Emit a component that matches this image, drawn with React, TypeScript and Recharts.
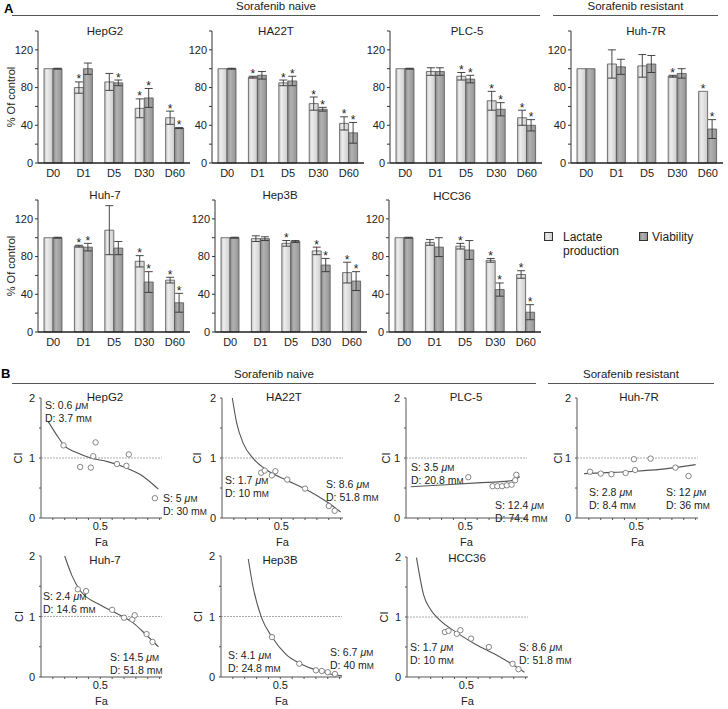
import React from "react";
import {
  BarChart, Bar, XAxis, YAxis, ErrorBar, LabelList,
  ComposedChart, Line, Scatter, ReferenceLine,
} from "recharts";

const FONT = '"Liberation Sans", Arial, sans-serif';
const days = ["D0", "D1", "D5", "D30", "D60"];

// ---- panel A: % of control (lactate production / viability) ----
const hepg2Lac = [100, 80, 86, 58, 48];
const hepg2LacErr = [0, 6, 9, 10, 7];
const hepg2Via = [100, 100, 85, 69, 37];
const hepg2ViaErr = [0.5, 6, 3, 10, 0.5];
const hepg2LacSig = [0, 1, 0, 1, 1];
const hepg2ViaSig = [0, 0, 1, 1, 1];

const ha22tLac = [100, 91, 85, 63, 42];
const ha22tLacErr = [0, 1, 3, 7, 7];
const ha22tVia = [100, 93, 87, 57, 32];
const ha22tViaErr = [0.5, 4, 5, 2, 11];
const ha22tLacSig = [0, 1, 1, 1, 1];
const ha22tViaSig = [0, 0, 1, 1, 1];

const plc5Lac = [100, 97, 92, 66, 48];
const plc5LacErr = [0, 4, 4, 10, 8];
const plc5Via = [100, 97, 89, 57, 40];
const plc5ViaErr = [0.5, 4, 4, 7, 6];
const plc5LacSig = [0, 0, 1, 1, 1];
const plc5ViaSig = [0, 0, 1, 1, 1];

const huh7rLac = [100, 105, 103, 92, 76];
const huh7rLacErr = [0, 15, 12, 1, 0];
const huh7rVia = [100, 102, 105, 95, 36];
const huh7rViaErr = [0, 8, 9, 5, 10];
const huh7rLacSig = [0, 0, 0, 1, 1];
const huh7rViaSig = [0, 0, 0, 0, 1];

const huh7Lac = [100, 91, 108, 75, 55];
const huh7LacErr = [0, 1, 26, 6, 3];
const huh7Via = [100, 90, 89, 53, 31];
const huh7ViaErr = [0.5, 4, 7, 11, 10];
const huh7LacSig = [0, 1, 0, 1, 1];
const huh7ViaSig = [0, 1, 0, 1, 1];

const hep3bLac = [100, 99, 94, 86, 63];
const hep3bLacErr = [0, 3, 3, 4, 11];
const hep3bVia = [100, 99, 96, 71, 54];
const hep3bViaErr = [0.5, 2, 1, 7, 10];
const hep3bLacSig = [0, 0, 1, 1, 1];
const hep3bViaSig = [0, 0, 0, 1, 1];

const hcc36Lac = [100, 95, 91, 76, 61];
const hcc36LacErr = [0, 3, 3, 2, 4];
const hcc36Via = [100, 90, 87, 45, 21];
const hcc36ViaErr = [0.5, 10, 10, 7, 8];
const hcc36LacSig = [0, 0, 1, 1, 1];
const hcc36ViaSig = [0, 0, 0, 1, 1];

// ---- panel B: combination index (CI) vs fraction affected (Fa) ----
const hepg2PtFa = [0.19, 0.33, 0.42, 0.44, 0.46, 0.64, 0.72, 0.74, 0.96];
const hepg2PtCi = [1.21, 0.85, 0.84, 1.03, 1.26, 0.9, 0.87, 1.06, 0.33];
const hepg2CvFa = [0.06, 0.13, 0.19, 0.3, 0.42, 0.56, 0.7, 0.84, 0.95, 0.99];
const hepg2CvCi = [1.61, 1.39, 1.22, 1.09, 1.0, 0.94, 0.85, 0.72, 0.55, 0.48];

const ha22tPtFa = [0.33, 0.36, 0.42, 0.45, 0.55, 0.7, 0.9, 0.95];
const ha22tPtCi = [0.755, 0.79, 0.71, 0.78, 0.64, 0.49, 0.2, 0.12];
const ha22tCvFa = [0.087, 0.124, 0.18, 0.264, 0.377, 0.545, 0.714, 0.883, 1.0];
const ha22tCvCi = [2.0, 1.58, 1.24, 0.99, 0.8, 0.63, 0.47, 0.27, 0.1];

const plc5PtFa = [0.525, 0.73, 0.77, 0.81, 0.85, 0.89, 0.92, 0.93];
const plc5PtCi = [0.68, 0.53, 0.53, 0.53, 0.545, 0.555, 0.63, 0.72];
const plc5CvFa = [0.04, 0.3, 0.6, 0.88, 0.93, 0.96];
const plc5CvCi = [0.52, 0.55, 0.585, 0.62, 0.65, 0.69];

const huh7rPtFa = [0.11, 0.2, 0.29, 0.41, 0.48, 0.49, 0.62, 0.83, 0.94];
const huh7rPtCi = [0.77, 0.74, 0.73, 0.75, 0.98, 0.8, 0.99, 0.84, 0.7];
const huh7rCvFa = [0.06, 0.3, 0.5, 0.7, 0.9, 1.0];
const huh7rCvCi = [0.74, 0.76, 0.78, 0.81, 0.86, 0.89];

const huh7PtFa = [0.31, 0.38, 0.6, 0.7, 0.77, 0.79, 0.89, 0.94];
const huh7PtCi = [1.45, 1.42, 1.11, 0.98, 0.95, 1.02, 0.71, 0.58];
const huh7CvFa = [0.2, 0.26, 0.33, 0.5, 0.64, 0.78, 0.89, 0.99];
const huh7CvCi = [2.0, 1.68, 1.43, 1.19, 1.05, 0.89, 0.69, 0.5];

const hep3bPtFa = [0.43, 0.66, 0.8, 0.85, 0.9, 0.96];
const hep3bPtCi = [0.66, 0.22, 0.11, 0.1, 0.08, 0.05];
const hep3bCvFa = [0.23, 0.27, 0.34, 0.43, 0.55, 0.67, 0.81, 0.92, 1.02];
const hep3bCvCi = [1.95, 1.49, 0.99, 0.66, 0.37, 0.22, 0.11, 0.05, 0.02];

const hcc36PtFa = [0.32, 0.35, 0.42, 0.45, 0.54, 0.69, 0.89, 0.94];
const hcc36PtCi = [0.75, 0.77, 0.72, 0.78, 0.64, 0.5, 0.22, 0.13];
const hcc36CvFa = [0.08, 0.14, 0.2, 0.27, 0.42, 0.58, 0.75, 0.88, 0.99];
const hcc36CvCi = [1.99, 1.37, 1.12, 0.96, 0.74, 0.54, 0.37, 0.22, 0.08];

function barRows(lac, lacErr, via, viaErr, lacSig, viaSig) {
  return days.map((day, i) => ({
    day, lac: lac[i], lacErr: lacErr[i], via: via[i], viaErr: viaErr[i],
    lacSig: lacSig[i], viaSig: viaSig[i],
  }));
}

const pairs = (fa: number[], ci: number[]) => fa.map((f, i) => ({ fa: f, ci: ci[i] }));

// asterisk above the error bar, placed with the bar's own pixel scale
const makeStar = (rows: any[], key: string) => (props: any) => {
  const vb = props.viewBox ?? props;
  let i = props.index;
  if (i == null) i = rows.findIndex((r) => r === props.payload);
  const row = rows[i];
  if (!row || !row[key + "Sig"]) return null;
  const h = Math.abs(vb.height);
  const ppu = h / row[key];
  const top = vb.y - row[key + "Err"] * ppu;
  return (
    <text x={vb.x + vb.width / 2} y={top + 1.5} textAnchor="middle" fontSize={12} fill="#222">*</text>
  );
};

const A_W = 152;
const A_H = 132;
const A_YW = 36;

function BarPanel({ id, title, px, py, tx, ty, rows, ylabel }: any) {
  return (
    <>
      <div style={{ position: "absolute", left: px - A_YW, top: py - 10 }}>
        <BarChart width={A_W + A_YW + 6} height={A_H + 10 + 22} data={rows}
          margin={{ top: 10, right: 6, bottom: 0, left: 0 }} barGap={0}>
          <defs>
            <linearGradient id={"gl" + id} x1="0" y1="0" x2="1" y2="0">
              <stop offset="0" stopColor="#c4c4c4" />
              <stop offset="0.3" stopColor="#ededed" />
              <stop offset="1" stopColor="#cdcdcd" />
            </linearGradient>
            <linearGradient id={"gv" + id} x1="0" y1="0" x2="1" y2="0">
              <stop offset="0" stopColor="#8c8c8c" />
              <stop offset="0.35" stopColor="#b2b2b2" />
              <stop offset="1" stopColor="#949494" />
            </linearGradient>
          </defs>
          <XAxis dataKey="day" height={22} tickLine={false} tickSize={4} interval={0}
            axisLine={{ stroke: "#222", strokeWidth: 1.6 }} tick={{ fontSize: 11, fill: "#222" }} />
          <YAxis width={A_YW} domain={[0, 140]} ticks={[0, 20, 40, 60, 80, 100, 120, 140]} interval={0}
            tickSize={3} tickFormatter={(v) => (v % 40 === 0 && v < 140 ? String(v) : "")}
            axisLine={{ stroke: "#333" }} tickLine={{ stroke: "#333" }} tick={{ fontSize: 11, fill: "#222" }}
            label={ylabel ? { value: "% Of control", angle: -90, position: "insideLeft", offset: 9,
              style: { textAnchor: "middle", fontSize: 11, fill: "#222" } } : undefined} />
          <Bar dataKey="lac" fill={`url(#gl${id})`} stroke="#555" strokeWidth={0.8} barSize={9}
            isAnimationActive={false}>
            <ErrorBar dataKey="lacErr" width={4} stroke="#333" strokeWidth={0.9} />
            <LabelList dataKey="lac" content={makeStar(rows, "lac")} />
          </Bar>
          <Bar dataKey="via" fill={`url(#gv${id})`} stroke="#555" strokeWidth={0.8} barSize={9}
            isAnimationActive={false}>
            <ErrorBar dataKey="viaErr" width={4} stroke="#333" strokeWidth={0.9} />
            <LabelList dataKey="via" content={makeStar(rows, "via")} />
          </Bar>
        </BarChart>
      </div>
      <div style={{ position: "absolute", left: tx - 40, width: 80, top: ty - 7, textAlign: "center",
        fontSize: 11.5, color: "#222" }}>{title}</div>
    </>
  );
}

const B_W = 121;
const B_YW = 34;
const B_XH = 32;

const Circle = (p: any) => (
  <circle cx={p.cx} cy={p.cy} r={2.7} fill="#fff" stroke="#777" strokeWidth={0.9} />
);

// y tick for CI: label only whole numbers, minor ticks stay unlabelled
const CiTick = (p: any) => {
  const v = p.payload?.value;
  if (!Number.isInteger(v)) return null;
  return (
    <text x={p.x - 2} y={p.y} dy={4} textAnchor="end" fontSize={11} fill="#222">{String(v)}</text>
  );
};

function Note({ x, y, s, d }: any) {
  return (
    <div style={{ position: "absolute", left: x, top: y, fontSize: 10.5, lineHeight: "12px",
      color: "#222", whiteSpace: "nowrap" }}>
      <div>S: {s} <i>μ</i><span style={{ fontSize: 8.5 }}>M</span></div>
      <div>D: {d} m<span style={{ fontSize: 8.5 }}>M</span></div>
    </div>
  );
}

function CiPanel({ title, px, py, ph, tx, ty, ciX, pts, curve, notes }: any) {
  return (
    <>
      <div style={{ position: "absolute", left: px - B_YW, top: py - 10 }}>
        <ComposedChart width={B_W + B_YW + 6} height={ph + 10 + B_XH}
          margin={{ top: 10, right: 6, bottom: 0, left: 0 }}>
          <XAxis type="number" dataKey="fa" domain={[0, 1.02]} allowDataOverflow height={B_XH}
            ticks={[0.1, 0.2, 0.3, 0.4, 0.5, 0.6, 0.7, 0.8, 0.9, 1.0]} interval={0} tickSize={2}
            tickFormatter={(v) => (v === 0.5 ? "0.5" : "")}
            axisLine={{ stroke: "#555" }} tickLine={{ stroke: "#555" }} tick={{ fontSize: 11, fill: "#222" }}
            label={{ value: "Fa", position: "insideBottom", offset: 4, style: { fontSize: 11, fill: "#222" } }} />
          <YAxis type="number" domain={[0, 2]} ticks={[0, 0.5, 1, 1.5, 2]} interval={0}
            width={B_YW} tickSize={2} tick={CiTick}
            axisLine={{ stroke: "#555" }} tickLine={{ stroke: "#555" }}
            label={{ value: "CI", angle: -90, position: "insideLeft", offset: ciX - (px - B_YW),
              style: { textAnchor: "middle", fontSize: 11, fill: "#222" } }} />
          <ReferenceLine y={1} stroke="#aaa" strokeDasharray="2 1" />
          <Line data={curve} dataKey="ci" type="monotone" dot={false} stroke="#555" strokeWidth={1.1}
            isAnimationActive={false} />
          <Scatter data={pts} dataKey="ci" shape={Circle} isAnimationActive={false} />
        </ComposedChart>
      </div>
      <div style={{ position: "absolute", left: tx - 40, width: 80, top: ty - 7, textAlign: "center",
        fontSize: 11.5, color: "#222" }}>{title}</div>
      {notes.map((n: any, i: number) => <Note key={i} {...n} />)}
    </>
  );
}

function Header({ label, x1, x2, y }: any) {
  return (
    <>
      <div style={{ position: "absolute", left: x1, width: x2 - x1, top: y - 15, textAlign: "center",
        fontSize: 11.5, color: "#222" }}>{label}</div>
      <div style={{ position: "absolute", left: x1, width: x2 - x1, top: y, borderTop: "1px solid #555" }} />
    </>
  );
}

export default function App() {
  return (
    <div style={{ position: "absolute", left: 0, top: 0, width: 728, height: 709, background: "#fff",
      fontFamily: FONT, overflow: "hidden" }}>
      <div style={{ position: "absolute", left: 4, top: 1, fontSize: 13, fontWeight: "bold" }}>A</div>
      <Header label="Sorafenib naive" x1={12} x2={540} y={15} />
      <Header label="Sorafenib resistant" x1={553} x2={718} y={15} />

      <BarPanel id="a1" title="HepG2" px={38} py={31} tx={105} ty={32}
        rows={barRows(hepg2Lac, hepg2LacErr, hepg2Via, hepg2ViaErr, hepg2LacSig, hepg2ViaSig)} ylabel />
      <BarPanel id="a2" title="HA22T" px={212} py={31} tx={276} ty={32}
        rows={barRows(ha22tLac, ha22tLacErr, ha22tVia, ha22tViaErr, ha22tLacSig, ha22tViaSig)} />
      <BarPanel id="a3" title="PLC-5" px={390} py={31} tx={467} ty={32}
        rows={barRows(plc5Lac, plc5LacErr, plc5Via, plc5ViaErr, plc5LacSig, plc5ViaSig)} />
      <BarPanel id="a4" title="Huh-7R" px={571} py={31} tx={646} ty={32}
        rows={barRows(huh7rLac, huh7rLacErr, huh7rVia, huh7rViaErr, huh7rLacSig, huh7rViaSig)} />
      <BarPanel id="a5" title="Huh-7" px={38} py={200} tx={105} ty={196}
        rows={barRows(huh7Lac, huh7LacErr, huh7Via, huh7ViaErr, huh7LacSig, huh7ViaSig)} ylabel />
      <BarPanel id="a6" title="Hep3B" px={215} py={200} tx={280} ty={196}
        rows={barRows(hep3bLac, hep3bLacErr, hep3bVia, hep3bViaErr, hep3bLacSig, hep3bViaSig)} />
      <BarPanel id="a7" title="HCC36" px={389} py={200} tx={452} ty={197}
        rows={barRows(hcc36Lac, hcc36LacErr, hcc36Via, hcc36ViaErr, hcc36LacSig, hcc36ViaSig)} />

      {/* legend */}
      <div style={{ position: "absolute", left: 544, top: 232, width: 7, height: 7, border: "1.5px solid #333",
        background: "linear-gradient(90deg,#c4c4c4,#ededed 30%,#cdcdcd)" }} />
      <div style={{ position: "absolute", left: 563, top: 230, fontSize: 12, lineHeight: "14px", color: "#222" }}>
        Lactate<br />production
      </div>
      <div style={{ position: "absolute", left: 639, top: 232, width: 7, height: 7, border: "1.5px solid #333",
        background: "linear-gradient(90deg,#8c8c8c,#b2b2b2 35%,#949494)" }} />
      <div style={{ position: "absolute", left: 652, top: 230, fontSize: 12, lineHeight: "14px", color: "#222" }}>
        Viability
      </div>

      <div style={{ position: "absolute", left: 1, top: 366, fontSize: 13, fontWeight: "bold" }}>B</div>
      <Header label="Sorafenib naive" x1={12} x2={536} y={383} />
      <Header label="Sorafenib resistant" x1={548} x2={714} y={383} />

      <CiPanel title="HepG2" px={41} py={398} ph={120} tx={105} ty={398} ciX={18}
        pts={pairs(hepg2PtFa, hepg2PtCi)} curve={pairs(hepg2CvFa, hepg2CvCi)}
        notes={[{ x: 45, y: 399, s: "0.6", d: "3.7" }, { x: 163, y: 492, s: "5", d: "30" }]} />
      <CiPanel title="HA22T" px={222} py={398} ph={120} tx={284} ty={398} ciX={197}
        pts={pairs(ha22tPtFa, ha22tPtCi)} curve={pairs(ha22tCvFa, ha22tCvCi)}
        notes={[{ x: 225, y: 474, s: "1.7", d: "10" }, { x: 326, y: 478, s: "8.6", d: "51.8" }]} />
      <CiPanel title="PLC-5" px={406} py={398} ph={120} tx={466} ty={398} ciX={386}
        pts={pairs(plc5PtFa, plc5PtCi)} curve={pairs(plc5CvFa, plc5CvCi)}
        notes={[{ x: 411, y: 461, s: "3.5", d: "20.8" }, { x: 495, y: 499, s: "12.4", d: "74.4" }]} />
      <CiPanel title="Huh-7R" px={577} py={398} ph={120} tx={639} ty={398} ciX={558}
        pts={pairs(huh7rPtFa, huh7rPtCi)} curve={pairs(huh7rCvFa, huh7rCvCi)}
        notes={[{ x: 589, y: 486, s: "2.8", d: "8.4" }, { x: 666, y: 486, s: "12", d: "36" }]} />
      <CiPanel title="Huh-7" px={41} py={556} ph={121} tx={105} ty={561} ciX={19}
        pts={pairs(huh7PtFa, huh7PtCi)} curve={pairs(huh7CvFa, huh7CvCi)}
        notes={[{ x: 43, y: 590, s: "2.4", d: "14.6" }, { x: 110, y: 651, s: "14.5", d: "51.8" }]} />
      <CiPanel title="Hep3B" px={221} py={556} ph={121} tx={280} ty={561} ciX={198}
        pts={pairs(hep3bPtFa, hep3bPtCi)} curve={pairs(hep3bCvFa, hep3bCvCi)}
        notes={[{ x: 228, y: 649, s: "4.1", d: "24.8" }, { x: 330, y: 646, s: "6.7", d: "40" }]} />
      <CiPanel title="HCC36" px={407} py={557} ph={120} tx={467} ty={559} ciX={384}
        pts={pairs(hcc36PtFa, hcc36PtCi)} curve={pairs(hcc36CvFa, hcc36CvCi)}
        notes={[{ x: 410, y: 641, s: "1.7", d: "10" }, { x: 519, y: 641, s: "8.6", d: "51.8" }]} />
    </div>
  );
}
